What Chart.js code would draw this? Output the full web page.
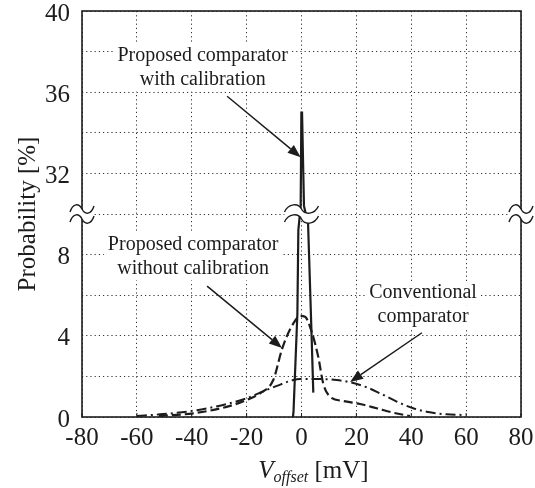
<!DOCTYPE html>
<html>
<head>
<meta charset="utf-8">
<script src="https://cdn.jsdelivr.net/npm/chart.js@4.4.0/dist/chart.umd.min.js"></script>
<style>
html,body{margin:0;padding:0;background:#fff}
#wrap{width:535px;height:488px}
</style>
</head>
<body>
<div id="wrap"><canvas id="chart"></canvas></div>
<script>
// values in mV / %
const calX = [-3.1, -2.9, -1.5, -1.15, -0.3, -0.05, 0.2, 0.9, 2.4, 3.1, 3.7, 4.3];
const calY = [0, 0.3, 5.1, 9.2, 30.4, 35, 35, 30.4, 9.5, 6.5, 3.9, 1.2];

const uncalX = [-52, -39.5, -27.3, -20, -15.1, -10.3, -7.2, -5.4, -3, -0.5, 1.3, 3.7, 6.1, 7.9, 10.4, 15.2, 21.3, 27.4, 33.5, 39.5];
const uncalY = [0.05, 0.18, 0.5, 0.84, 1.17, 1.82, 3.3, 3.96, 4.6, 4.98, 4.94, 4.2, 2.97, 1.66, 1.0, 0.79, 0.64, 0.43, 0.21, 0.05];

const convX = [-60, -51.6, -39.4, -27.3, -20, -15.1, -9, -3, -0.5, 6.7, 12.8, 17.7, 23.8, 28.6, 34.7, 40.7, 46.8, 52.9, 59.6];
const convY = [0.05, 0.13, 0.31, 0.64, 0.92, 1.2, 1.53, 1.82, 1.87, 1.87, 1.82, 1.71, 1.46, 1.17, 0.76, 0.43, 0.23, 0.13, 0.1];

const xTickValues = [-80, -60, -40, -20, 0, 20, 40, 60, 80];
const yTickLabels = [0, 4, 8, 32, 36, 40];

// broken y axis: 0..10 and 30..40 stacked on one linear scale 0..20
const BREAK_LO = 10, BREAK_HI = 30;
function toAxis(v) { return v <= BREAK_LO ? v : (v >= BREAK_HI ? v - (BREAK_HI - BREAK_LO) : BREAK_LO); }
function fromAxis(t) { return t <= BREAK_LO ? t : t + (BREAK_HI - BREAK_LO); }

function pts(xs, ys) { return xs.map((x, i) => ({ x: x, y: toAxis(ys[i]) })); }

const SERIF = "'Liberation Serif', 'Times New Roman', serif";
const INK = '#1c1c1c';

// annotation positions in data units (mV, %)
const notes = [
  { lines: ['Proposed comparator', 'with calibration'], x: -36, y: 37.8, from: [-27.1, 35.8], to: [-0.3, 32.8] },
  { lines: ['Proposed comparator', 'without calibration'], x: -39.5, y: 8.5, from: [-34.4, 6.45], to: [-7.1, 3.4] },
  { lines: ['Conventional', 'comparator'], x: 44.3, y: 6.1, from: [43.9, 4.15], to: [17.7, 1.72] }
];

function drawBreak(ctx, cx, cy, w) {
  const L = cx - w / 2, R = cx + w / 2;
  const tilde = (y) => {
    ctx.moveTo(L, y + 3);
    ctx.bezierCurveTo(L + w * 0.12, y - 6, cx - 3, y - 6, cx, y);
    ctx.bezierCurveTo(cx + 3, y + 6, R - w * 0.12, y + 6, R, y - 3);
  };
  const y1 = cy - 5, y2 = cy + 5;
  ctx.save();
  ctx.beginPath();
  tilde(y1);
  ctx.lineTo(R, y2 - 3);
  ctx.bezierCurveTo(R - w * 0.12, y2 + 6, cx + 3, y2 + 6, cx, y2);
  ctx.bezierCurveTo(cx - 3, y2 - 6, L + w * 0.12, y2 - 6, L, y2 + 3);
  ctx.closePath();
  ctx.fillStyle = '#fff';
  ctx.fill();
  ctx.beginPath();
  tilde(y1);
  tilde(y2);
  ctx.strokeStyle = INK;
  ctx.lineWidth = 1.4;
  ctx.stroke();
  ctx.restore();
}

function arrow(ctx, x1, y1, x2, y2) {
  const a = Math.atan2(y2 - y1, x2 - x1), len = 13, hw = 5;
  const bx = x2 - len * Math.cos(a), by = y2 - len * Math.sin(a);
  ctx.beginPath();
  ctx.moveTo(x1, y1);
  ctx.lineTo(bx, by);
  ctx.lineWidth = 1.5;
  ctx.strokeStyle = INK;
  ctx.stroke();
  ctx.beginPath();
  ctx.moveTo(x2, y2);
  ctx.lineTo(bx + hw * Math.sin(a), by - hw * Math.cos(a));
  ctx.lineTo(bx - hw * Math.sin(a), by + hw * Math.cos(a));
  ctx.closePath();
  ctx.fillStyle = INK;
  ctx.fill();
}

const decor = {
  id: 'decor',
  beforeDatasetsDraw(chart) {
    const { ctx, scales: { x, y } } = chart;
    // white boxes behind labels (they break the grid)
    ctx.save();
    ctx.font = '20px ' + SERIF;
    notes.forEach(n => {
      const cx = x.getPixelForValue(n.x), cy = y.getPixelForValue(toAxis(n.y));
      n.lines.forEach((s, i) => {
        const w = ctx.measureText(s).width;
        ctx.fillStyle = '#fff';
        ctx.fillRect(cx - w / 2 - 4, cy + i * 24 - 12, w + 8, 24);
      });
    });
    ctx.restore();
  },
  afterDatasetsDraw(chart) {
    const { ctx, chartArea: a, scales: { x, y } } = chart;
    ctx.save();
    // inner tick marks
    ctx.strokeStyle = INK;
    ctx.lineWidth = 1;
    ctx.beginPath();
    xTickValues.forEach(v => {
      const px = x.getPixelForValue(v);
      ctx.moveTo(px, a.bottom); ctx.lineTo(px, a.bottom - 4);
    });
    ctx.stroke();
    // frame
    ctx.lineWidth = 1.6;
    ctx.strokeStyle = INK;
    ctx.strokeRect(a.left, a.top, a.right - a.left, a.bottom - a.top);
    // axis break marks
    const by = y.getPixelForValue(BREAK_LO);
    drawBreak(ctx, a.left, by, 24);
    drawBreak(ctx, a.right, by, 24);
    drawBreak(ctx, x.getPixelForValue(0), by, 34);
    // annotations
    ctx.font = '20px ' + SERIF;
    ctx.fillStyle = INK;
    ctx.textAlign = 'center';
    ctx.textBaseline = 'middle';
    notes.forEach(n => {
      const cx = x.getPixelForValue(n.x), cy = y.getPixelForValue(toAxis(n.y));
      n.lines.forEach((s, i) => ctx.fillText(s, cx, cy + i * 24));
      arrow(ctx, x.getPixelForValue(n.from[0]), y.getPixelForValue(toAxis(n.from[1])),
                 x.getPixelForValue(n.to[0]), y.getPixelForValue(toAxis(n.to[1])));
    });
    // y title
    ctx.save();
    ctx.translate(28, (a.top + a.bottom) / 2 + 0);
    ctx.rotate(-Math.PI / 2);
    ctx.font = '25px ' + SERIF;
    ctx.fillText('Probability [%]', 0, 0);
    ctx.restore();
    // x title: V_offset [mV]
    const base = 478;
    ctx.textAlign = 'left';
    ctx.textBaseline = 'alphabetic';
    const f1 = 'italic 25px ' + SERIF, f2 = 'italic 16px ' + SERIF, f3 = '25px ' + SERIF;
    ctx.font = f1; const w1 = ctx.measureText('V').width;
    ctx.font = f2; const w2 = ctx.measureText('offset').width;
    ctx.font = f3; const w3 = ctx.measureText(' [mV]').width;
    let sx = (a.left + a.right) / 2 + 12 - (w1 + w2 + w3) / 2;
    ctx.font = f1; ctx.fillText('V', sx, base); sx += w1;
    ctx.font = f2; ctx.fillText('offset', sx, base + 4); sx += w2;
    ctx.font = f3; ctx.fillText(' [mV]', sx, base);
    ctx.restore();
  }
};

const fitBox = (w, h) => function (scale) {
  if (w) scale.width = w;
  if (h) scale.height = h;
  scale.paddingTop = 0; scale.paddingBottom = 0;
  scale.paddingLeft = 0; scale.paddingRight = 0;
};

new Chart(document.getElementById('chart'), {
  type: 'line',
  data: {
    datasets: [
      { label: 'Proposed comparator with calibration', data: pts(calX, calY),
        borderColor: INK, borderWidth: 2.2, pointRadius: 0, tension: 0 },
      { label: 'Proposed comparator without calibration', data: pts(uncalX, uncalY),
        borderColor: INK, borderWidth: 2.2, borderDash: [9, 4], pointRadius: 0, cubicInterpolationMode: 'monotone' },
      { label: 'Conventional comparator', data: pts(convX, convY),
        borderColor: INK, borderWidth: 2, borderDash: [10, 4, 2, 4], pointRadius: 0, cubicInterpolationMode: 'monotone' }
    ]
  },
  options: {
    responsive: true,
    maintainAspectRatio: false,
    animation: false,
    layout: { padding: { top: 11, right: 14, left: 0, bottom: 0 } },
    plugins: { legend: { display: false }, tooltip: { enabled: false } },
    scales: {
      x: {
        type: 'linear', min: -80, max: 80,
        afterBuildTicks: s => { s.ticks = xTickValues.map(v => ({ value: v })); },
        afterFit: fitBox(0, 71),
        ticks: { color: INK, font: { family: SERIF, size: 25 }, padding: 6, maxRotation: 0 },
        grid: { color: '#333', lineWidth: 1, drawTicks: false },
        border: { display: false, dash: [1.2, 3] }
      },
      y: {
        type: 'linear', min: 0, max: 20,
        afterBuildTicks: s => { const t = []; for (let v = 0; v <= 20; v += 2) t.push({ value: v }); s.ticks = t; },
        afterFit: fitBox(82, 0),
        ticks: {
          color: INK, font: { family: SERIF, size: 25 }, padding: 12, labelOffset: 3,
          callback: v => { const r = fromAxis(v); return yTickLabels.includes(r) && v !== BREAK_LO ? String(r) : ''; }
        },
        grid: { color: '#333', lineWidth: 1, drawTicks: false },
        border: { display: false, dash: [1.2, 3] }
      }
    }
  },
  plugins: [decor]
});
</script>
</body>
</html>
